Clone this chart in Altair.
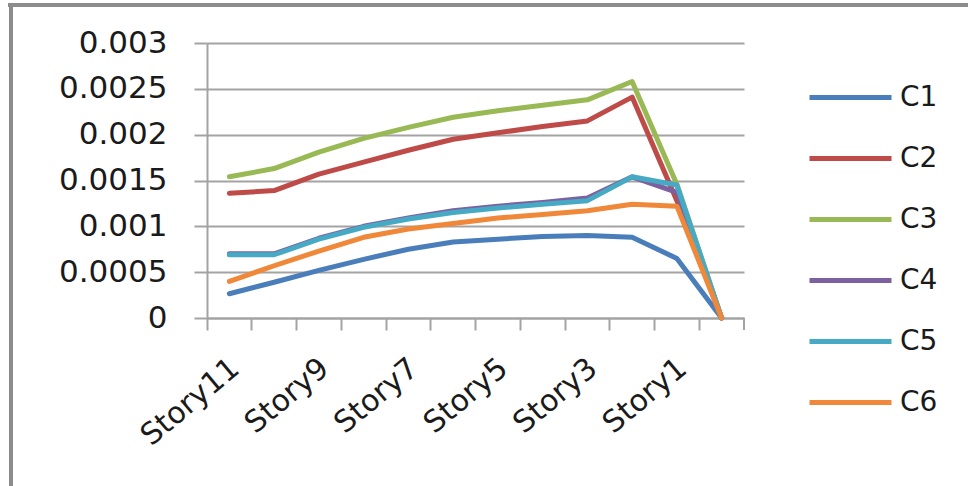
import altair as alt
import pandas as pd

# Story levels from top to base
stories = ["Story11", "Story10", "Story9", "Story8", "Story7", "Story6",
           "Story5", "Story4", "Story3", "Story2", "Story1", "Base"]
shown_labels = ["Story11", "Story9", "Story7", "Story5", "Story3", "Story1"]

series_names = ["C1", "C2", "C3", "C4", "C5", "C6"]
series_colors = ["#4A7EBB", "#BE4B48", "#98B954", "#7D60A0", "#46AAC5", "#F0883A"]

c1 = [0.000265, 0.00039, 0.00052, 0.00064, 0.00075, 0.00083, 0.00086, 0.00089, 0.0009, 0.00088, 0.00065, 0.0]
c2 = [0.00136, 0.00139, 0.00157, 0.0017, 0.00183, 0.00195, 0.00202, 0.00209, 0.00215, 0.00241, 0.00128, 0.0]
c3 = [0.00154, 0.00163, 0.00181, 0.00196, 0.00208, 0.00219, 0.00226, 0.00232, 0.00238, 0.00258, 0.00146, 0.0]
c4 = [0.0007, 0.0007, 0.00087, 0.001, 0.00109, 0.00117, 0.00122, 0.00126, 0.00131, 0.00154, 0.00137, 0.0]
c5 = [0.00069, 0.00069, 0.00086, 0.00099, 0.00108, 0.00115, 0.0012, 0.00124, 0.00128, 0.00154, 0.00145, 0.0]
c6 = [0.0004, 0.00057, 0.00073, 0.00088, 0.00097, 0.00103, 0.00109, 0.00113, 0.00117, 0.00124, 0.00122, 0.0]

y_ticks = [0, 0.0005, 0.001, 0.0015, 0.002, 0.0025, 0.003]

rows = []
for name, vals in zip(series_names, [c1, c2, c3, c4, c5, c6]):
    for order, (story, v) in enumerate(zip(stories, vals)):
        rows.append({"story": story, "series": name, "drift": v, "order": order})
df = pd.DataFrame(rows)

FONT = "DejaVu Sans"
GRID = "#A3A3A3"

x_enc = alt.X(
    "story:N",
    sort=stories,
    title=None,
    scale=alt.Scale(paddingInner=0, paddingOuter=0),
    axis=alt.Axis(
        bandPosition=0,
        labelOffset=6,
        labelAngle=-40,
        labelAlign="right",
        labelBaseline="middle",
        labelPadding=34,
        labelFontSize=30,
        labelFont=FONT,
        labelColor="#1a1a1a",
        labelExpr="indexof(" + str(shown_labels) + ", datum.value) >= 0 ? datum.value : ''",
        tickSize=12,
        tickWidth=2,
        tickColor=GRID,
        domainColor=GRID,
        domainWidth=2,
        grid=False,
    ),
)

y_enc = alt.Y(
    "drift:Q",
    title=None,
    scale=alt.Scale(domain=[0, 0.003], nice=False),
    axis=alt.Axis(
        values=y_ticks,
        labelExpr="toString(datum.value)",
        labelFontSize=31,
        labelFont=FONT,
        labelColor="#1a1a1a",
        labelPadding=27,
        tickSize=13,
        tickWidth=2,
        tickColor=GRID,
        domainColor=GRID,
        domainWidth=2,
        grid=True,
        gridColor=GRID,
        gridWidth=2,
    ),
)

lines = alt.Chart(df).mark_line(strokeWidth=5, strokeJoin="round", strokeCap="round").encode(
    x=x_enc,
    y=y_enc,
    order=alt.Order("order:Q"),
    color=alt.Color(
        "series:N",
        sort=series_names,
        scale=alt.Scale(domain=series_names, range=series_colors),
        legend=alt.Legend(
            title=None,
            orient="none",
            legendX=600,
            legendY=11,
            symbolType="stroke",
            symbolSize=6724,
            symbolStrokeWidth=5,
            labelFontSize=28,
            labelFont=FONT,
            labelColor="#1a1a1a",
            labelOffset=6,
            rowPadding=3,
        ),
    ),
)

# closing tick at the right end of the category axis
end_tick = alt.Chart(pd.DataFrame({"story": [stories[-1]]})).mark_rule(
    color=GRID, strokeWidth=2
).encode(
    x=alt.X("story:N", sort=stories, bandPosition=1),
    y=alt.value(275),
    y2=alt.value(287),
)

# outer frame (top and left edges)
frame_df = pd.DataFrame({"k": [0]})
frame_top = alt.Chart(frame_df).mark_rule(color="#8C8C8C", strokeWidth=4).encode(
    x=alt.value(-199), x2=alt.value(761), y=alt.value(-38)
)
frame_left = alt.Chart(frame_df).mark_rule(color="#8C8C8C", strokeWidth=4).encode(
    x=alt.value(-196), y=alt.value(-40), y2=alt.value(443)
)

chart = (
    alt.layer(frame_top, frame_left, lines, end_tick)
    .properties(
        width=537,
        height=275,
        autosize=alt.AutoSizeParams(type="none"),
        padding={"left": 207, "top": 43, "right": 224, "bottom": 168},
        background="white",
    )
    .configure_view(stroke=None)
)

chart.save("out.html", embed_options={"renderer": "svg", "actions": False})
